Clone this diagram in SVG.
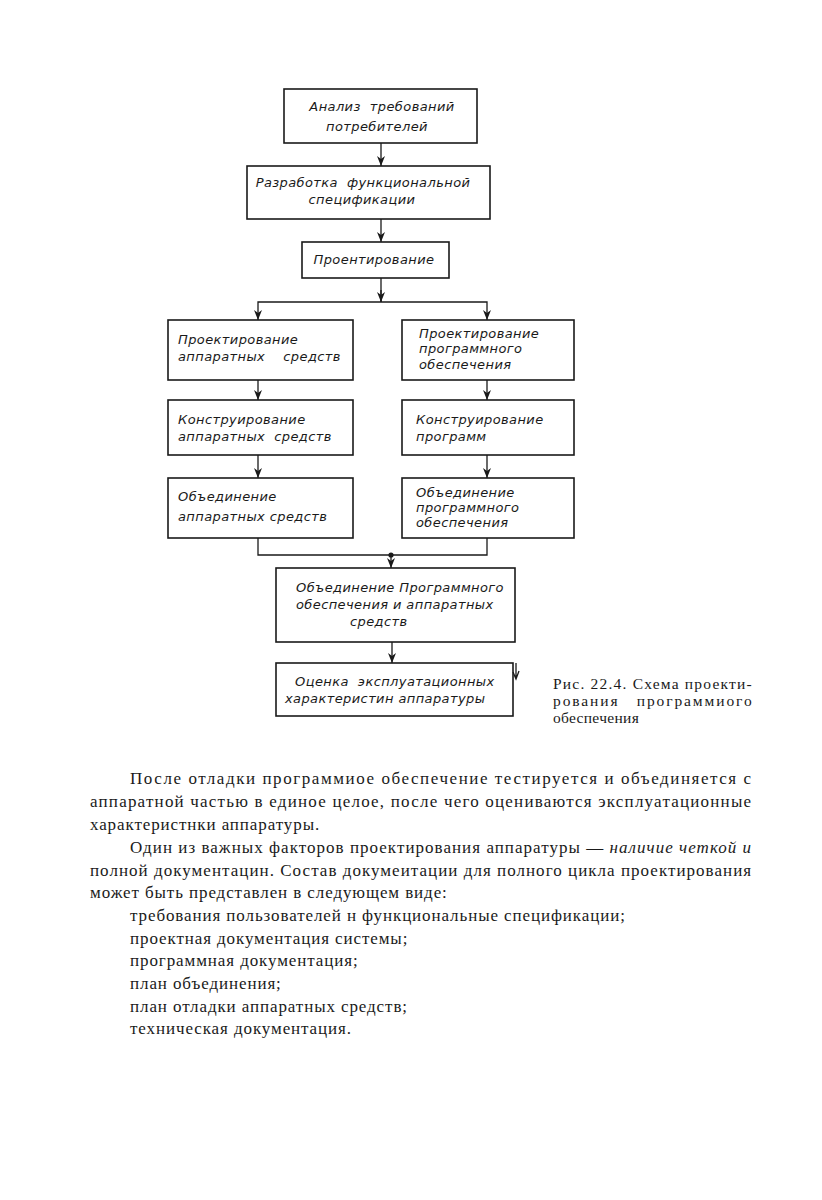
<svg xmlns="http://www.w3.org/2000/svg" width="822" height="1200" viewBox="0 0 822 1200">
<defs>
<style>
.box{fill:none;stroke:#1a1a1a;stroke-width:1.6}
.ln{fill:none;stroke:#1a1a1a;stroke-width:1.3}
.d{font-family:"DejaVu Sans","Liberation Sans",sans-serif;font-style:italic;font-size:13px;fill:#1a1a1a;letter-spacing:0.4px;white-space:pre}
.b{font-family:"Liberation Serif","DejaVu Serif",serif;font-size:17px;fill:#1a1a1a;letter-spacing:0.9px}
.c{font-family:"Liberation Serif","DejaVu Serif",serif;font-size:15.5px;fill:#1a1a1a;letter-spacing:0.3px;white-space:pre}
</style>
<marker id="ar" viewBox="0 0 10 8" refX="10" refY="4" markerWidth="10" markerHeight="8" markerUnits="userSpaceOnUse" orient="auto-start-reverse">
<path d="M0,0 L10,4 L0,8 L3,4 Z" fill="#1a1a1a"/>
</marker>
</defs>
<rect width="822" height="1200" fill="#fff"/>

<g id="connectors">
<line class="ln" x1="381" y1="143" x2="381" y2="166" marker-end="url(#ar)"/>
<line class="ln" x1="381" y1="219" x2="381" y2="242" marker-end="url(#ar)"/>
<line class="ln" x1="381" y1="278" x2="381" y2="302"/>
<polyline class="ln" points="258,320 258,302 487,302 487,320" marker-start="url(#ar)" marker-end="url(#ar)"/>
<line class="ln" x1="381" y1="290" x2="381" y2="302" marker-end="url(#ar)"/>
<line class="ln" x1="258" y1="380" x2="258" y2="400" marker-end="url(#ar)"/>
<line class="ln" x1="258" y1="455" x2="258" y2="478" marker-end="url(#ar)"/>
<line class="ln" x1="487" y1="380" x2="487" y2="400" marker-end="url(#ar)"/>
<line class="ln" x1="487" y1="455" x2="487" y2="478" marker-end="url(#ar)"/>
<polyline class="ln" points="258,538 258,555 487,555 487,538"/>
<circle cx="391" cy="555" r="2.6" fill="#1a1a1a"/>
<line class="ln" x1="391" y1="555" x2="391" y2="568" marker-end="url(#ar)"/>
<line class="ln" x1="392" y1="642" x2="392" y2="663" marker-end="url(#ar)"/>
<path class="ln" d="M516,663 L516,679 M513,672 L516,679 L519,671"/>
</g>

<g id="n1"><rect class="box" x="284" y="89" width="193" height="54"/>
<text class="d" x="382" y="111" text-anchor="middle">Анализ  требований</text>
<text class="d" x="377" y="131" text-anchor="middle">потребителей</text></g>

<g id="n2"><rect class="box" x="247" y="166" width="243" height="53"/>
<text class="d" x="363" y="187" text-anchor="middle">Разработка  функциональной</text>
<text class="d" x="362" y="204" text-anchor="middle">спецификации</text></g>

<g id="n3"><rect class="box" x="302" y="242" width="147" height="36"/>
<text class="d" x="374" y="264" text-anchor="middle">Проентирование</text></g>

<g id="n4"><rect class="box" x="168" y="320" width="185" height="60"/>
<text class="d" x="178" y="344">Проектирование</text>
<text class="d" x="178" y="361">аппаратных    средств</text></g>

<g id="n5"><rect class="box" x="168" y="400" width="185" height="55"/>
<text class="d" x="178" y="424">Конструирование</text>
<text class="d" x="178" y="441">аппаратных  средств</text></g>

<g id="n6"><rect class="box" x="168" y="478" width="185" height="60"/>
<text class="d" x="178" y="501">Объединение</text>
<text class="d" x="178" y="521">аппаратных средств</text></g>

<g id="n7"><rect class="box" x="402" y="320" width="172" height="60"/>
<text class="d" x="419" y="338">Проектирование</text>
<text class="d" x="419" y="353">программного</text>
<text class="d" x="419" y="369">обеспечения</text></g>

<g id="n8"><rect class="box" x="402" y="400" width="172" height="55"/>
<text class="d" x="416" y="424">Конструирование</text>
<text class="d" x="416" y="441">программ</text></g>

<g id="n9"><rect class="box" x="402" y="478" width="172" height="60"/>
<text class="d" x="416" y="497">Объединение</text>
<text class="d" x="416" y="512">программного</text>
<text class="d" x="416" y="527">обеспечения</text></g>

<g id="n10"><rect class="box" x="276" y="568" width="239" height="74"/>
<text class="d" x="296" y="592">Объединение Программного</text>
<text class="d" x="296" y="609">обеспечения и аппаратных</text>
<text class="d" x="350" y="626">средств</text></g>

<g id="n11"><rect class="box" x="276" y="663" width="237" height="53"/>
<text class="d" x="295" y="686">Оценка  эксплуатационных</text>
<text class="d" x="285" y="703">характеристин аппаратуры</text></g>

<g id="caption">
<text class="c" x="553" y="689" textLength="199" lengthAdjust="spacing">Рис. 22.4. Схема проекти-</text>
<text class="c" x="553" y="706" textLength="199" lengthAdjust="spacing">рования   программиого</text>
<text class="c" x="553" y="723">обеспечения</text>
</g>

<g id="body">
<text class="b" x="130" y="784" textLength="622" lengthAdjust="spacing">После отладки программиое обеспечение тестируется и объединяется с</text>
<text class="b" x="90" y="807" textLength="662" lengthAdjust="spacing">аппаратной частью в единое целое, после чего оцениваются эксплуатационные</text>
<text class="b" x="90" y="830">характеристнки аппаратуры.</text>
<text class="b" x="130" y="853" textLength="622" lengthAdjust="spacing">Один из важных факторов проектирования аппаратуры — <tspan font-style="italic">наличие четкой и</tspan></text>
<text class="b" x="90" y="876" textLength="662" lengthAdjust="spacing">полной документацин. Состав докумеитации для полного цикла проектирования</text>
<text class="b" x="90" y="898">может быть представлен в следующем виде:</text>
<text class="b" x="130" y="921">требования пользователей н функциональные спецификации;</text>
<text class="b" x="130" y="944">проектная документация системы;</text>
<text class="b" x="130" y="966">программная документация;</text>
<text class="b" x="130" y="989">план объединения;</text>
<text class="b" x="130" y="1012">план отладки аппаратных средств;</text>
<text class="b" x="130" y="1034">техническая документация.</text>
</g>
</svg>
